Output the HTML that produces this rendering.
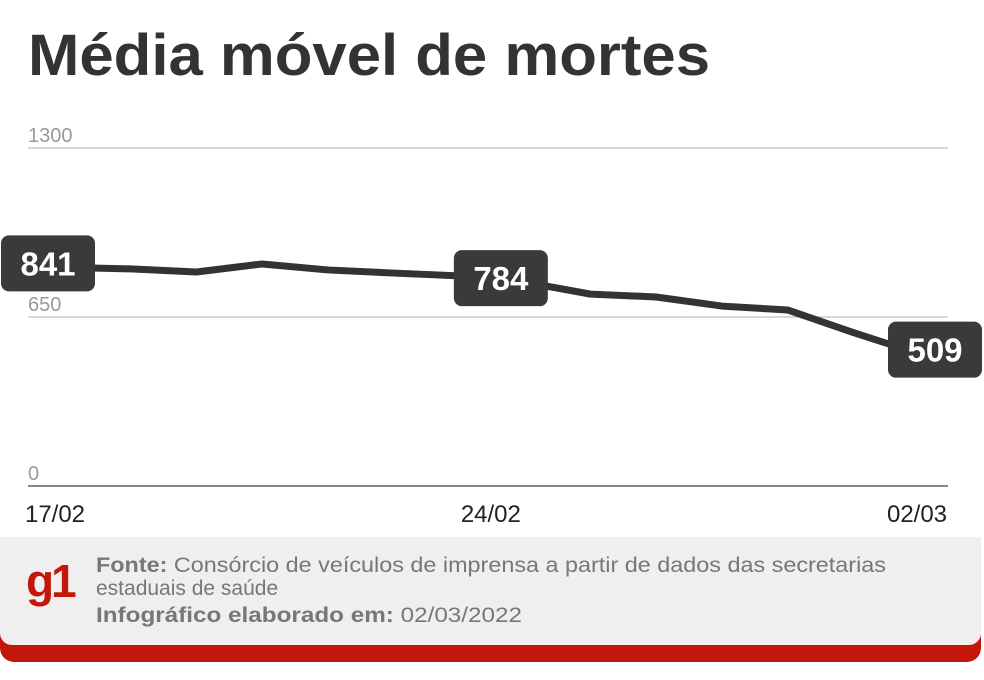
<!DOCTYPE html>
<html><head><meta charset="utf-8"><style>
html,body{margin:0;padding:0;background:#fff;}
svg{display:block;font-family:"Liberation Sans",sans-serif;}
</style></head><body>
<svg width="984" height="680" viewBox="0 0 984 680">
<text x="28" y="75" font-size="58" font-weight="bold" fill="#333" textLength="682" lengthAdjust="spacingAndGlyphs">Média móvel de mortes</text>
<g id="grid"></g>
<g id="xlabels"></g>
<polyline id="line" fill="none" stroke="#333" stroke-width="7" stroke-linejoin="round"/>
<g id="boxes"></g>
<g>
<rect x="0" y="600" width="981" height="62" rx="14" fill="#c4170c"/>
<rect x="0" y="537" width="981" height="108" rx="12" fill="#efefef"/>
<rect x="0" y="537" width="981" height="30" fill="#efefef"/>
<text x="26" y="597" font-size="46" font-weight="bold" fill="#c4170c" letter-spacing="-3">g1</text>
<text x="96" y="572" font-size="21" fill="#777" textLength="790" lengthAdjust="spacingAndGlyphs"><tspan font-weight="bold">Fonte:</tspan> Consórcio de veículos de imprensa a partir de dados das secretarias</text>
<text x="96" y="595" font-size="21" fill="#777">estaduais de saúde</text>
<text x="96" y="622" font-size="21" fill="#777" textLength="426" lengthAdjust="spacingAndGlyphs"><tspan font-weight="bold">Infográfico elaborado em:</tspan> 02/03/2022</text>
</g>
</svg>
<script>
const dates = ["17/02","18/02","19/02","20/02","21/02","22/02","23/02","24/02","25/02","26/02","27/02","28/02","01/03","02/03"];
const values = [841,835,823,854,831,819,808,784,738,727,692,677,590,509];
const yTicks = [0,650,1300];
const xTickLabels = ["17/02","24/02","02/03"];
const labeledIdx = [0,7,13];

const NS="http://www.w3.org/2000/svg";
const x0=65, x1=919, yBase=486, yTop=148;
const xs=i=>x0+(x1-x0)*i/(dates.length-1);
const ys=v=>yBase-(yBase-yTop)*v/1300;
function mk(tag,attrs,parent,txt){const e=document.createElementNS(NS,tag);for(const k in attrs)e.setAttribute(k,attrs[k]);if(txt!=null)e.textContent=txt;parent.appendChild(e);return e;}

const grid=document.getElementById('grid');
yTicks.forEach(t=>{
  const l=mk('line',{x1:28,x2:948,y1:ys(t),y2:ys(t),stroke:t===0?'#888':'#ccc','stroke-width':t===0?2:1.5},grid);
  
  
  const tx=mk('text',{x:28,y:ys(t)-6,'font-size':20,fill:'#999'},grid,String(t));
  
  
});
const xl=document.getElementById('xlabels');
xTickLabels.forEach((d,k)=>{
  const i=dates.indexOf(d);
  const cx = k===0?xs(i)-10:(k===2?xs(i)-2:xs(i)-34);
  const t=mk('text',{x:cx,y:522,'font-size':24,fill:'#222','text-anchor':'middle'},xl,d);
  
  
});
document.getElementById('line').setAttribute('points',values.map((v,i)=>xs(i)+','+ys(v)).join(' '));
const boxes=document.getElementById('boxes');
labeledIdx.forEach((i,k)=>{
  let cx=xs(i);
  if(k===0)cx-=17;
  if(k===1)cx-=24;
  if(k===2)cx+=16;
  const cy=ys(values[i])-4;
  const g=mk('g',{},boxes);
  
  
  mk('rect',{x:cx-47,y:cy-28,width:94,height:56,rx:8,fill:'#3a3a3a'},g);
  mk('text',{x:cx,y:cy+12,'font-size':33,'font-weight':'bold',fill:'#fff','text-anchor':'middle'},g,String(values[i]));
});
</script>
</body></html>
